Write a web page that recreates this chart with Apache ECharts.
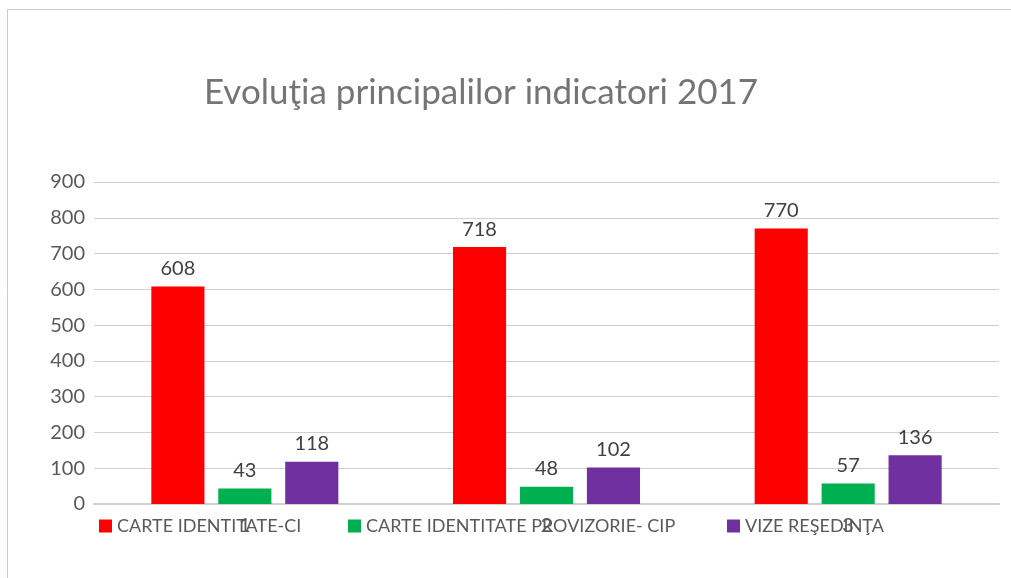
<!DOCTYPE html>
<html>
<head>
<meta charset="utf-8">
<script src="https://cdn.jsdelivr.net/npm/echarts@6/dist/echarts.min.js"></script>
<style>
    html, body { margin: 0; padding: 0; background: #fff; }
    #main { width: 1011px; height: 578px; }
</style>
</head>
<body>
<div id="main"></div>
<script>
var categories = ['1', '2', '3']
var seriesNames = ['CARTE IDENTITATE-CI', 'CARTE IDENTITATE PROVIZORIE- CIP', 'VIZE REŞEDINŢA']
var ciValues = [608, 718, 770]
var cipValues = [43, 48, 57]
var vizeValues = [118, 102, 136]
var yTicks = { min: 0, max: 900, interval: 100 }

var colors = ['#ff0000', '#00b050', '#7030a0']
var font = 'Lato, "Open Sans", sans-serif'

var myChart = echarts.init(document.getElementById('main'));

// cate o legenda pentru fiecare serie, ca sa le pun exact unde sunt
var legendLeft = [94, 343, 722]
var legends = []
for (var i = 0; i < seriesNames.length; i++) {
    legends.push({
        data: [seriesNames[i]],
        left: legendLeft[i],
        top: 512,
        icon: 'rect',
        itemWidth: 13,
        itemHeight: 13,
        itemGap: 0,
        textStyle: { color: '#595959', fontSize: 18, fontFamily: font }
    })
}

function makeSeries(name, data, color) {
    return {
        name: name,
        type: 'bar',
        data: data,
        barGap: '26%',
        barCategoryGap: '38%',
        itemStyle: { color: color },
        label: {
            show: true,
            position: 'top',
            distance: 8,
            color: '#404040',
            fontSize: 20,
            fontFamily: font
        }
    }
}

var option = {
    animation: false,
    title: {
        text: 'Evoluţia principalilor indicatori 2017',
        left: 476,
        textAlign: 'center',
        top: 70,
        textStyle: { color: '#757575', fontSize: 35, fontWeight: 'normal', fontFamily: font }
    },
    graphic: [{
        type: 'rect',
        shape: { x: 7.5, y: 9.5, width: 1100, height: 700 },
        style: { fill: 'none', stroke: '#c8c8c8', lineWidth: 1 },
        silent: true
    }],
    legend: legends,
    grid: { left: 94, right: 12, top: 182, bottom: 74 },
    xAxis: {
        type: 'category',
        data: categories,
        axisTick: { show: false },
        axisLine: { lineStyle: { color: '#d0d0d0', width: 2 } },
        axisLabel: { color: '#595959', fontSize: 20, margin: 12, fontFamily: font }
    },
    yAxis: {
        type: 'value',
        min: yTicks.min,
        max: yTicks.max,
        interval: yTicks.interval,
        axisLine: { show: false },
        axisTick: { show: false },
        axisLabel: { color: '#595959', fontSize: 20, margin: 9, fontFamily: font },
        splitLine: { lineStyle: { color: '#d0d0d0' } }
    },
    series: [
        makeSeries(seriesNames[0], ciValues, colors[0]),
        makeSeries(seriesNames[1], cipValues, colors[1]),
        makeSeries(seriesNames[2], vizeValues, colors[2])
    ]
};

myChart.setOption(option);

window.addEventListener('resize', function () {
    myChart.resize();
})
</script>
</body>
</html>
